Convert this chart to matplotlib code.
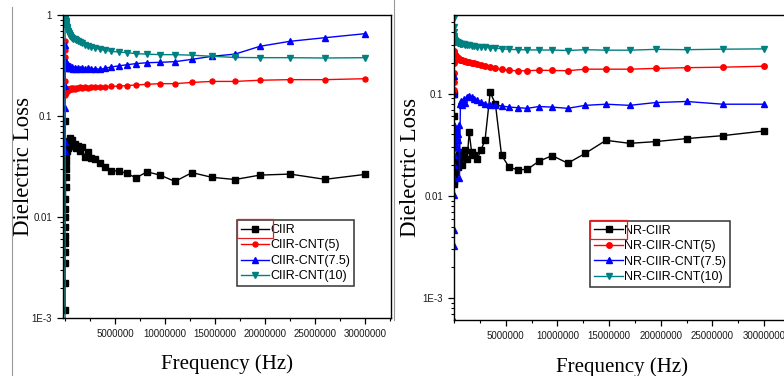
import matplotlib
matplotlib.use('Agg')
import matplotlib.pyplot as plt
from matplotlib.lines import Line2D
from matplotlib.patches import Rectangle
from matplotlib.ticker import FixedLocator, MultipleLocator, LogLocator, NullFormatter
import numpy as np

# frequency points (MHz), shared by all curves
freq_mhz = [0.01, 0.011, 0.013, 0.015, 0.018, 0.021, 0.024, 0.028, 0.032, 0.037,
            0.043, 0.05, 0.058, 0.067, 0.078, 0.09, 0.105, 0.12, 0.14, 0.165,
            0.19, 0.22, 0.26, 0.30, 0.35, 0.40, 0.46, 0.53, 0.62, 0.71,
            0.82, 0.95, 1.1, 1.27, 1.47, 1.7, 1.95, 2.25, 2.6, 3.0,
            3.5, 4.0, 4.6, 5.35, 6.2, 7.1, 8.2, 9.5, 11, 12.7,
            14.7, 17, 19.5, 22.5, 26, 30]

# left panel
ciir = [0.0012, 0.0022, 0.0035, 0.0045, 0.0055, 0.0065, 0.008, 0.01, 0.09, 0.012,
        0.015, 0.02, 0.025, 0.03, 0.035, 0.04, 0.045, 0.05, 0.055, 0.048,
        0.045, 0.05, 0.048, 0.055, 0.05, 0.057, 0.053, 0.060, 0.055, 0.058,
        0.050, 0.053, 0.048, 0.050, 0.045, 0.0497, 0.0395, 0.044, 0.038, 0.0375,
        0.034, 0.031, 0.0287, 0.0285, 0.027, 0.0244, 0.028, 0.026, 0.0225, 0.0275,
        0.0247, 0.0235, 0.026, 0.0266, 0.0236, 0.0264]
ciir_cnt5 = [0.55, 0.45, 0.38, 0.3, 0.22, 0.17, 0.16, 0.17, 0.175, 0.18,
             0.17, 0.175, 0.18, 0.172, 0.178, 0.17, 0.18, 0.175, 0.182, 0.176,
             0.183, 0.178, 0.185, 0.18, 0.186, 0.182, 0.187, 0.183, 0.188, 0.185,
             0.19, 0.187, 0.19, 0.188, 0.192, 0.19, 0.193, 0.19, 0.195, 0.193,
             0.195, 0.194, 0.196, 0.198, 0.2, 0.203, 0.206, 0.209, 0.209, 0.215,
             0.22, 0.22, 0.226, 0.229, 0.229, 0.234]
ciir_cnt75 = [0.045, 0.055, 0.12, 0.2, 0.5, 0.35, 0.3, 0.33, 0.31, 0.34,
              0.32, 0.345, 0.33, 0.34, 0.325, 0.335, 0.32, 0.33, 0.315, 0.325,
              0.31, 0.32, 0.305, 0.318, 0.30, 0.312, 0.298, 0.31, 0.296, 0.306,
              0.295, 0.302, 0.293, 0.3, 0.292, 0.298, 0.29, 0.296, 0.29, 0.295,
              0.29, 0.296, 0.306, 0.313, 0.322, 0.33, 0.337, 0.34, 0.345, 0.364,
              0.39, 0.41, 0.49, 0.549, 0.596, 0.653]
ciir_cnt10 = [0.0005, 1.2, 1.0, 0.98, 0.96, 0.95, 0.93, 0.92, 0.9, 0.89,
              0.88, 0.87, 0.86, 0.85, 0.84, 0.83, 0.82, 0.8, 0.78, 0.76,
              0.74, 0.72, 0.7, 0.69, 0.67, 0.65, 0.63, 0.62, 0.6, 0.59,
              0.585, 0.575, 0.565, 0.555, 0.54, 0.525, 0.51, 0.495, 0.482, 0.47,
              0.457, 0.447, 0.437, 0.43, 0.424, 0.414, 0.41, 0.405, 0.405, 0.40,
              0.39, 0.38, 0.378, 0.378, 0.375, 0.378]

# right panel
nr_ciir = [0.06, 0.1, 0.045, 0.03, 0.02, 0.016, 0.014, 0.013, 0.015, 0.017,
           0.016, 0.018, 0.017, 0.019, 0.018, 0.02, 0.019, 0.021, 0.02, 0.022,
           0.021, 0.023, 0.022, 0.02, 0.019, 0.02, 0.025, 0.023, 0.027, 0.024,
           0.02, 0.025, 0.028, 0.023, 0.042, 0.027, 0.025, 0.023, 0.028, 0.035,
           0.103, 0.08, 0.025, 0.019, 0.018, 0.0182, 0.0218, 0.0248, 0.0209, 0.0261,
           0.035, 0.0327, 0.034, 0.0364, 0.0389, 0.0432]
nr_ciir_cnt5 = [0.11, 0.13, 0.16, 0.2, 0.25, 0.26, 0.255, 0.25, 0.248, 0.246,
                0.244, 0.242, 0.24, 0.238, 0.237, 0.236, 0.235, 0.234, 0.233, 0.232,
                0.231, 0.23, 0.228, 0.226, 0.224, 0.222, 0.22, 0.218, 0.216, 0.214,
                0.212, 0.21, 0.208, 0.206, 0.204, 0.202, 0.2, 0.195, 0.19, 0.185,
                0.181, 0.177, 0.173, 0.169, 0.168, 0.168, 0.17, 0.169, 0.168, 0.174,
                0.174, 0.174, 0.177, 0.18, 0.182, 0.186]
nr_ciir_cnt75 = [0.0006, 0.15, 0.1, 0.05, 0.0032, 0.0046, 0.0103, 0.015, 0.02, 0.025,
                 0.03, 0.035, 0.03, 0.04, 0.035, 0.045, 0.04, 0.03, 0.045, 0.035,
                 0.04, 0.03, 0.038, 0.03, 0.035, 0.04, 0.05, 0.015, 0.08, 0.085,
                 0.078, 0.088, 0.082, 0.092, 0.094, 0.092, 0.089, 0.087, 0.083, 0.08,
                 0.078, 0.077, 0.076, 0.074, 0.073, 0.072, 0.075, 0.074, 0.072, 0.077,
                 0.079, 0.077, 0.082, 0.084, 0.079, 0.079]
nr_ciir_cnt10 = [0.8, 0.55, 0.45, 0.4, 0.37, 0.35, 0.345, 0.34, 0.338, 0.336,
                 0.334, 0.332, 0.33, 0.33, 0.328, 0.327, 0.326, 0.325, 0.324, 0.323,
                 0.322, 0.321, 0.32, 0.318, 0.316, 0.315, 0.313, 0.311, 0.31, 0.308,
                 0.306, 0.304, 0.302, 0.3, 0.298, 0.295, 0.292, 0.29, 0.288, 0.285,
                 0.282, 0.279, 0.276, 0.272, 0.27, 0.269, 0.268, 0.268, 0.265, 0.27,
                 0.267, 0.267, 0.272, 0.27, 0.273, 0.275]

left_labels = ["CIIR", "CIIR-CNT(5)", "CIIR-CNT(7.5)", "CIIR-CNT(10)"]
right_labels = ["NR-CIIR", "NR-CIIR-CNT(5)", "NR-CIIR-CNT(7.5)", "NR-CIIR-CNT(10)"]
xtick_vals = [5000000, 10000000, 15000000, 20000000, 25000000, 30000000]

colors = ['black', '#ff0000', '#0000ff', '#008080']
markers = ['s', 'o', '^', 'v']
msizes = [3.8, 3.6, 4.4, 4.4]

sans = 'Liberation Sans'
serif = 'Liberation Serif'

fig = plt.figure(figsize=(7.84, 3.76), dpi=100)

freq = np.array(freq_mhz) * 1e6


def style_axes(ax, xlim, ylim, ytick_vals, ytick_text):
    ax.set_yscale('log')
    ax.set_xlim(*xlim)
    ax.set_ylim(*ylim)
    ax.xaxis.set_major_locator(FixedLocator(xtick_vals))
    ax.xaxis.set_minor_locator(MultipleLocator(2500000))
    ax.set_xticklabels([str(v) for v in xtick_vals])
    ax.yaxis.set_major_locator(FixedLocator(ytick_vals))
    ax.set_yticklabels(ytick_text)
    ax.yaxis.set_minor_locator(LogLocator(base=10, subs=np.arange(2, 10)))
    ax.yaxis.set_minor_formatter(NullFormatter())
    ax.tick_params(which='major', direction='out', length=4, width=0.9,
                   labelsize=7, pad=4, top=False, right=False)
    ax.tick_params(which='minor', direction='out', length=2.5, width=0.8,
                   top=False, right=False)
    for lab in ax.get_xticklabels() + ax.get_yticklabels():
        lab.set_fontfamily(sans)
        lab.set_color('#1a1a1a')
    for sp in ax.spines.values():
        sp.set_linewidth(1.0)
    ax.set_ylabel("Dielectric Loss", family=serif, fontsize=16.5)
    ax.set_xlabel("Frequency (Hz)", family=serif, fontsize=15)


def draw_panel(ax, series, labels, ms_scale):
    for y, lab, c, m, s in zip(series, labels, colors, markers, msizes):
        ax.plot(freq, y, color=c, marker=m, markersize=s * ms_scale, lw=1.0,
                label=lab)


def add_legend(ax, anchor):
    leg = ax.legend(loc='lower left', bbox_to_anchor=anchor,
                    prop={'family': sans, 'size': 9}, frameon=True, fancybox=False,
                    edgecolor='black', handlelength=2.3, handletextpad=0.1,
                    labelspacing=0.28, borderpad=0.3, borderaxespad=0)
    leg.get_frame().set_linewidth(1.1)
    return leg


# left panel
ax1 = fig.add_axes([63 / 784, 1 - 318 / 376, 328 / 784, 303 / 376])
draw_panel(ax1, [ciir, ciir_cnt5, ciir_cnt75, ciir_cnt10], left_labels, 1.0)
style_axes(ax1, (-0.2e6, 32.6e6), (1e-3, 1), [1e-3, 1e-2, 1e-1, 1],
           ["1E-3", "0.01", "0.1", "1"])
ax1.yaxis.set_label_coords(-0.088, 0.5)
ax1.xaxis.set_label_coords(0.5, -0.12)
leg1 = add_legend(ax1, (0.53, 0.105))

# right panel
ax2 = fig.add_axes([454 / 784, 1 - 320 / 376, 337 / 784, 305 / 376])
draw_panel(ax2, [nr_ciir, nr_ciir_cnt5, nr_ciir_cnt75, nr_ciir_cnt10], right_labels, 1.1)
style_axes(ax2, (0, 32.6e6), (6.1e-4, 0.59), [1e-3, 1e-2, 1e-1],
           ["1E-3", "0.01", "0.1"])
ax2.yaxis.set_label_coords(-0.098, 0.5)
ax2.xaxis.set_label_coords(0.5, -0.123)
leg2 = add_legend(ax2, (0.405, 0.108))

# red box drawn round the first legend handle in the original
fig.canvas.draw()
renderer = fig.canvas.get_renderer()
for leg in (leg1, leg2):
    h = leg.legend_handles[0]
    bb = h.get_window_extent(renderer)
    x0, y0 = fig.transFigure.inverted().transform((bb.x0 - 1, bb.y0 - 7))
    x1, y1 = fig.transFigure.inverted().transform((bb.x1 + 1, bb.y1 + 7))
    fig.add_artist(Rectangle((x0, y0), x1 - x0, y1 - y0, fill=False,
                             edgecolor='#e02020', lw=0.9, transform=fig.transFigure))

# scan frame edges
fig.add_artist(Line2D([12 / 784, 12 / 784], [0, 1 - 7 / 376], color='#999999', lw=0.8))
fig.add_artist(Line2D([393.5 / 784, 393.5 / 784], [1 - 320 / 376, 1], color='#999999', lw=0.8))

fig.savefig('out.png', dpi=100)
